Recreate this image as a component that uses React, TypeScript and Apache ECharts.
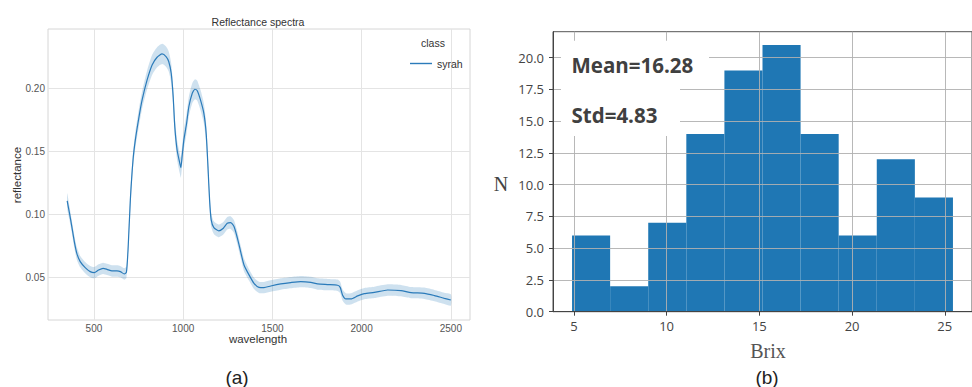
import React, { useEffect, useRef } from "react";
import * as echarts from "echarts";

// ---- Panel (a): reflectance spectrum ----
const wavelengths = [350, 363, 376, 390, 404, 423, 451, 479, 502, 526, 551, 573, 601, 629, 648, 670, 682, 691, 704, 719, 732, 751, 770, 798, 826, 854, 882, 904, 919, 933, 944, 953, 966, 981, 987, 994, 1004, 1019, 1032, 1051, 1066, 1079, 1097, 1116, 1129, 1139, 1148, 1157, 1172, 1200, 1225, 1247, 1266, 1285, 1304, 1322, 1341, 1369, 1397, 1425, 1453, 1491, 1547, 1603, 1659, 1715, 1753, 1809, 1865, 1880, 1893, 1912, 1940, 1978, 2015, 2071, 2146, 2221, 2277, 2352, 2408, 2464, 2500];
const reflectance = [0.1106, 0.1008, 0.0902, 0.0783, 0.069, 0.0624, 0.0577, 0.0545, 0.0537, 0.0558, 0.0571, 0.0563, 0.055, 0.055, 0.0545, 0.0526, 0.054, 0.0717, 0.1114, 0.143, 0.159, 0.176, 0.1907, 0.2066, 0.2185, 0.2246, 0.2272, 0.2251, 0.2212, 0.2119, 0.1934, 0.1696, 0.151, 0.1405, 0.137, 0.1458, 0.159, 0.172, 0.1855, 0.196, 0.1992, 0.198, 0.1907, 0.18, 0.164, 0.1378, 0.1114, 0.0955, 0.0894, 0.0868, 0.0889, 0.0929, 0.0934, 0.0902, 0.081, 0.0704, 0.0598, 0.0519, 0.0452, 0.042, 0.0418, 0.0431, 0.0447, 0.0458, 0.0466, 0.046, 0.0447, 0.0442, 0.0437, 0.042, 0.036, 0.0328, 0.0328, 0.0352, 0.037, 0.038, 0.0399, 0.0394, 0.0378, 0.0373, 0.0355, 0.0333, 0.032];
const ciHalf = [0.006, 0.0055, 0.005, 0.005, 0.005, 0.0045, 0.0045, 0.0045, 0.0045, 0.0045, 0.0045, 0.0045, 0.0045, 0.0045, 0.0045, 0.0045, 0.0045, 0.005, 0.006, 0.006, 0.0065, 0.007, 0.007, 0.0075, 0.008, 0.008, 0.008, 0.008, 0.008, 0.008, 0.008, 0.008, 0.008, 0.008, 0.008, 0.008, 0.008, 0.008, 0.008, 0.008, 0.008, 0.008, 0.008, 0.008, 0.008, 0.007, 0.006, 0.0055, 0.005, 0.005, 0.005, 0.005, 0.005, 0.005, 0.005, 0.005, 0.005, 0.0045, 0.0045, 0.0045, 0.0045, 0.0045, 0.0045, 0.0045, 0.0045, 0.0045, 0.0045, 0.0045, 0.0045, 0.0045, 0.0045, 0.0045, 0.0045, 0.0045, 0.0045, 0.0045, 0.0045, 0.0045, 0.0045, 0.0045, 0.0045, 0.0045, 0.0045];
const specXTicks = [500, 1000, 1500, 2000, 2500];
const specYTicks = [0.05, 0.1, 0.15, 0.2];

// ---- Panel (b): Brix histogram ----
const binEdges = [4.9, 6.954, 9.008, 11.062, 13.116, 15.17, 17.224, 19.278, 21.332, 23.386, 25.44];
const counts = [6, 2, 7, 14, 19, 21, 14, 6, 12, 9];
const histXTicks = [5, 10, 15, 20, 25];
const histYTicks = [0, 2.5, 5, 7.5, 10, 12.5, 15, 17.5, 20];
const meanText = "Mean=16.28";
const stdText = "Std=4.83";

export default function App() {
  const ref = useRef<HTMLDivElement>(null);

  useEffect(() => {
    if (!ref.current) return;
    const chart = echarts.init(ref.current, undefined, { renderer: "svg" });

    const lineData = wavelengths.map((w, i) => [w, reflectance[i]]);
    const bandData = wavelengths.map((w, i) => [w, reflectance[i] - ciHalf[i], reflectance[i] + ciHalf[i]]);
    const histData = counts.map((c, i) => [binEdges[i], binEdges[i + 1], c]);

    const sans = "Liberation Sans, Arial, sans-serif";
    const open = "Open Sans, DejaVu Sans, sans-serif";
    const serif = "Liberation Serif, Times New Roman, serif";

    chart.setOption({
      animation: false,
      backgroundColor: "#ffffff",
      grid: [
        { left: 48, top: 29, width: 422, height: 291, show: true, borderColor: "#d6d6d6", borderWidth: 1, backgroundColor: "transparent" },
        { left: 553, top: 31.7, width: 430, height: 280, show: true, borderColor: "#555", borderWidth: 1, backgroundColor: "transparent" },
      ],
      legend: {
        left: 405,
        top: 53,
        itemWidth: 22,
        itemHeight: 1.4,
        icon: "rect",
        data: ["syrah"],
        textStyle: { fontFamily: sans, fontSize: 10.5, color: "#333" },
      },
      xAxis: [
        {
          type: "value",
          gridIndex: 0,
          min: 242.5,
          max: 2607.5,
          axisLine: { show: false },
          axisTick: { show: false, customValues: specXTicks },
          axisLabel: { customValues: specXTicks, fontFamily: sans, fontSize: 10, color: "#555", margin: 3, formatter: (v: number) => String(v) },
          splitLine: { show: true, lineStyle: { color: "#e4e4e4", width: 1 } },
        },
        {
          type: "value",
          gridIndex: 1,
          min: 3.873,
          max: 26.467,
          z: 5,
          axisLine: { show: true, onZero: false, lineStyle: { color: "#444", width: 1 } },
          axisTick: { show: true, customValues: histXTicks, length: 4, lineStyle: { color: "#444" } },
          axisLabel: { customValues: histXTicks, fontFamily: open, fontSize: 13, color: "#444", margin: 8, formatter: (v: number) => String(v) },
          splitLine: { show: true, lineStyle: { color: "rgba(176,176,176,0.9)", width: 1 } },
        },
      ],
      yAxis: [
        {
          type: "value",
          gridIndex: 0,
          min: 0.0161,
          max: 0.247,
          axisLine: { show: false },
          axisTick: { show: false, customValues: specYTicks },
          axisLabel: { customValues: specYTicks, fontFamily: sans, fontSize: 10, color: "#555", margin: 3, formatter: (v: number) => v.toFixed(2) },
          splitLine: { show: true, lineStyle: { color: "#e4e4e4", width: 1 } },
        },
        {
          type: "value",
          gridIndex: 1,
          min: 0,
          max: 22.05,
          z: 5,
          axisLine: { show: true, onZero: false, lineStyle: { color: "#444", width: 1 } },
          axisTick: { show: true, customValues: histYTicks, length: 4, lineStyle: { color: "#444" } },
          axisLabel: { customValues: histYTicks, fontFamily: open, fontSize: 13, color: "#444", margin: 9, formatter: (v: number) => v.toFixed(1) },
          splitLine: { show: true, lineStyle: { color: "rgba(176,176,176,0.9)", width: 1 } },
        },
      ],
      series: [
        {
          name: "ci",
          type: "custom",
          xAxisIndex: 0,
          yAxisIndex: 0,
          data: bandData,
          encode: { x: 0, y: [1, 2] },
          silent: true,
          z: 2,
          renderItem: (params: any, api: any) => {
            if (params.dataIndex !== 0) return null;
            const upper = bandData.map((d) => api.coord([d[0], d[2]]));
            const lower = bandData.map((d) => api.coord([d[0], d[1]])).reverse();
            return {
              type: "polygon",
              shape: { points: upper.concat(lower), smooth: 0.2 },
              style: { fill: "rgba(31,119,180,0.22)", stroke: "none" },
            };
          },
        },
        {
          name: "syrah",
          type: "line",
          xAxisIndex: 0,
          yAxisIndex: 0,
          data: lineData,
          symbol: "none",
          smooth: 0.2,
          color: "#2b7bba",
          lineStyle: { color: "#2b7bba", width: 1.2 },
          z: 3,
        },
        {
          name: "Brix",
          type: "custom",
          xAxisIndex: 1,
          yAxisIndex: 1,
          data: histData,
          encode: { x: [0, 1], y: 2 },
          z: 2,
          renderItem: (params: any, api: any) => {
            const p0 = api.coord([api.value(0), api.value(2)]);
            const p1 = api.coord([api.value(1), 0]);
            return {
              type: "rect",
              shape: { x: p0[0], y: p0[1], width: p1[0] - p0[0], height: p1[1] - p0[1] },
              style: { fill: "#1f77b4" },
            };
          },
        },
      ],
      graphic: [
        { type: "text", x: 258, y: 22, z: 20, style: { text: "Reflectance spectra", fontFamily: sans, fontSize: 10.5, fill: "#333", align: "center", verticalAlign: "middle" } },
        { type: "text", x: 258, y: 339, z: 20, style: { text: "wavelength", fontFamily: sans, fontSize: 11.5, fill: "#333", align: "center", verticalAlign: "middle" } },
        { type: "text", x: 17, y: 175, rotation: Math.PI / 2, z: 20, style: { text: "reflectance", fontFamily: sans, fontSize: 11.5, fill: "#333", align: "center", verticalAlign: "middle" } },
        { type: "text", x: 433, y: 43, z: 20, style: { text: "class", fontFamily: sans, fontSize: 10.5, fill: "#333", align: "center", verticalAlign: "middle" } },
        { type: "text", x: 237, y: 377, z: 20, style: { text: "(a)", fontFamily: sans, fontSize: 19, fill: "#222", align: "center", verticalAlign: "middle" } },
        { type: "text", x: 767, y: 377, z: 20, style: { text: "(b)", fontFamily: sans, fontSize: 19, fill: "#222", align: "center", verticalAlign: "middle" } },
        { type: "text", x: 501, y: 184, z: 20, style: { text: "N", fontFamily: serif, fontSize: 20, fill: "#444", align: "center", verticalAlign: "middle" } },
        { type: "text", x: 768, y: 351, z: 20, style: { text: "Brix", fontFamily: serif, fontSize: 20, fill: "#555", align: "center", verticalAlign: "middle" } },
        { type: "rect", z: 30, shape: { x: 561, y: 40.7, width: 148, height: 46 }, style: { fill: "#ffffff" } },
        { type: "rect", z: 30, shape: { x: 561, y: 86, width: 119, height: 50 }, style: { fill: "#ffffff" } },
        { type: "text", x: 571.5, y: 65, z: 31, style: { text: meanText, fontFamily: open, fontWeight: "bold", fontSize: 20.5, fill: "#404040", align: "left", verticalAlign: "middle" } },
        { type: "text", x: 571.5, y: 115, z: 31, style: { text: stdText, fontFamily: open, fontWeight: "bold", fontSize: 20.5, fill: "#404040", align: "left", verticalAlign: "middle" } },
      ],
    });

    return () => chart.dispose();
  }, []);

  return (
    <div
      ref={ref}
      style={{ position: "fixed", left: 0, top: 0, width: 972, height: 387, background: "#fff" }}
    />
  );
}
